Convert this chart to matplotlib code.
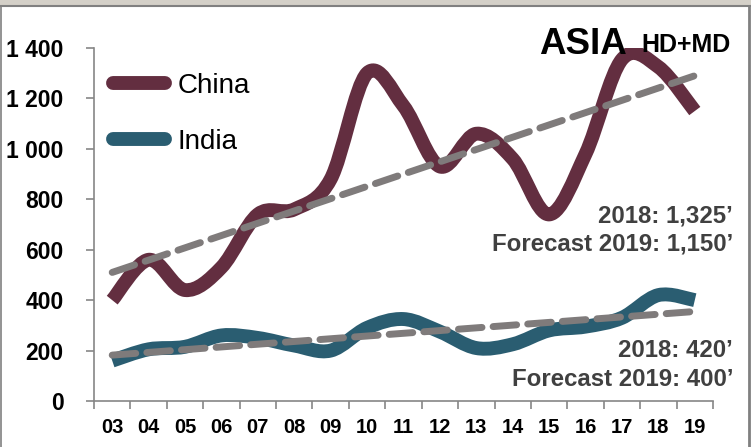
import numpy as np
import matplotlib
matplotlib.use("Agg")
import matplotlib.pyplot as plt
from matplotlib.path import Path
from matplotlib.patches import PathPatch, Rectangle
from matplotlib.lines import Line2D

years = ["03", "04", "05", "06", "07", "08", "09", "10", "11", "12",
         "13", "14", "15", "16", "17", "18", "19"]
china = [400, 560, 440, 530, 740, 760, 880, 1300, 1170, 930,
         1060, 960, 740, 980, 1355, 1325, 1150]
india = [160, 205, 215, 260, 250, 220, 200, 290, 325, 275,
         210, 225, 280, 295, 330, 420, 400]
china_trend = [510, 1290]
india_trend = [182, 355]
yticks = [0, 200, 400, 600, 800, 1000, 1200, 1400]
ytick_labels = ["0", "200", "400", "600", "800", "1 000", "1 200", "1 400"]

C_CHINA = "#632E40"
C_INDIA = "#2A5D71"
C_TREND = "#7F7B7B"
C_NOTE = "#404040"

plt.rcParams["font.family"] = ["Liberation Sans", "DejaVu Sans"]


def smooth_path(xs, ys):
    """Cubic Bezier path through the points (Catmull-Rom style smoothing)."""
    pts = np.column_stack([xs, ys]).astype(float)
    n = len(pts)
    verts = [pts[0]]
    codes = [Path.MOVETO]
    for i in range(n - 1):
        p0 = pts[i - 1] if i > 0 else pts[i]
        p1 = pts[i]
        p2 = pts[i + 1]
        p3 = pts[i + 2] if i + 2 < n else pts[i + 1]
        c1 = p1 + (p2 - p0) / 6.0
        c2 = p2 - (p3 - p1) / 6.0
        verts += [c1, c2, p2]
        codes += [Path.CURVE4] * 3
    return Path(verts, codes)


fig = plt.figure(figsize=(7.51, 4.47), dpi=100)
ax = fig.add_axes([94 / 751, 1 - 401 / 447, (713 - 94) / 751, (401 - 48) / 447])

x = np.arange(len(years))

for vals, col in [(china, C_CHINA), (india, C_INDIA)]:
    ax.add_patch(PathPatch(smooth_path(x, vals), facecolor="none", edgecolor=col,
                           lw=10, capstyle="butt", joinstyle="round", zorder=2))

for tr in (china_trend, india_trend):
    ax.plot([x[0], x[-1]], tr, color=C_TREND, lw=5, ls=(0, (3.4, 1.6)),
            dash_capstyle="round", solid_capstyle="round", zorder=3)

ax.set_xlim(-0.5, len(years) - 0.5)
ax.set_ylim(0, 1400)
ax.set_xticks(x)
ax.set_xticklabels(years)
ax.set_xticks(np.arange(-0.5, len(years)), minor=True)
ax.tick_params(axis="x", which="major", length=0, pad=12)
ax.tick_params(axis="x", which="minor", length=6, color="#868686", width=1.2)
ax.set_yticks(yticks)
ax.set_yticklabels(ytick_labels)
ax.tick_params(axis="y", length=6, color="#868686", width=1.2, pad=16)
for lab in ax.get_xticklabels():
    lab.set_fontfamily(["Liberation Sans Narrow", "Liberation Sans", "DejaVu Sans"])
    lab.set_fontweight("bold")
    lab.set_fontsize(14.5)
for lab in ax.get_yticklabels():
    lab.set_fontfamily(["Liberation Sans Narrow", "Liberation Sans", "DejaVu Sans"])
    lab.set_fontweight("bold")
    lab.set_fontsize(16.5)

for s in ("top", "right"):
    ax.spines[s].set_visible(False)
for s in ("left", "bottom"):
    ax.spines[s].set_color("#868686")
    ax.spines[s].set_linewidth(1.2)

handles = [Line2D([], [], color=C_CHINA, lw=10, solid_capstyle="round"),
           Line2D([], [], color=C_INDIA, lw=10, solid_capstyle="round")]
ax.legend(handles, ["China", "India"], loc="upper left",
          bbox_to_anchor=(0.0, 0.985), frameon=False, fontsize=20,
          handlelength=1.85, handletextpad=0.45, labelspacing=1.08,
          borderaxespad=0.3)

# Title
fig.text(627 / 751, 1 - 54 / 447, "ASIA", ha="right", va="baseline",
         fontsize=26.5, fontweight="bold")
fig.text(641 / 751, 1 - 52 / 447, "HD+MD", ha="left", va="baseline",
         fontsize=18, fontweight="bold")

# Notes
notes = [("2018: 1,325\u2019", 223), ("Forecast 2019: 1,150\u2019", 250),
         ("2018: 420\u2019", 357), ("Forecast 2019: 400\u2019", 386)]
for txt, yb in notes:
    fig.text(733 / 751, 1 - yb / 447, txt, ha="right", va="baseline",
             fontsize=17.3, fontweight="bold", color=C_NOTE)

# Window frame
fig.patches.append(Rectangle((0, 1 - 6 / 447), 1, 6 / 447, transform=fig.transFigure,
                             facecolor="#D4D0C8", edgecolor="none", zorder=0))
fig.lines.append(Line2D([0, 1], [1 - 6 / 447] * 2, transform=fig.transFigure,
                        color="#808080", lw=1.5))
fig.lines.append(Line2D([748.5 / 751] * 2, [0, 1 - 6 / 447], transform=fig.transFigure,
                        color="#808080", lw=2))
fig.lines.append(Line2D([0.7 / 751] * 2, [0, 1 - 6 / 447], transform=fig.transFigure,
                        color="#808080", lw=1.2))

fig.savefig("out.png", dpi=100)
